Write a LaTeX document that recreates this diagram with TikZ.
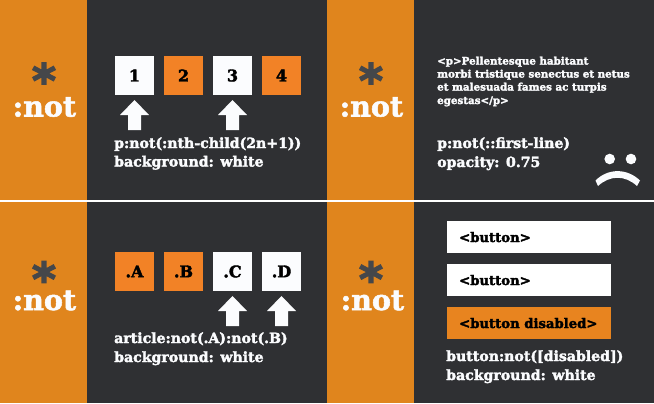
\documentclass[tikz,border=0pt]{standalone}
\usepackage{fontspec}
\newfontfamily\slab{DejaVu Serif}[BoldFeatures={FakeBold=2.4}]
\newfontfamily\slabheavy{DejaVu Serif}[BoldFeatures={FakeBold=1.8}]
\newfontfamily\starfont{DejaVu Sans}[BoldFeatures={FakeBold=3}]
\definecolor{panelorange}{HTML}{E0851D}
\definecolor{paneldark}{HTML}{2F3033}
\definecolor{boxorange}{HTML}{F28226}
\definecolor{btnorange}{HTML}{E8841F}
\definecolor{snow}{HTML}{FBFCFE}
\definecolor{stargray}{HTML}{45474A}
\tikzset{
 x=1bp,y=-1bp,
 sidepanel/.style={fill=panelorange,draw=none},
 mainpanel/.style={fill=paneldark,draw=none},
 sq/.style={minimum width=39bp,minimum height=39bp,inner sep=0pt,draw=none,font=\slab\bfseries\fontsize{16bp}{16bp}\selectfont,text=black},
 sqw/.style={sq,fill=snow},
 sqo/.style={sq,fill=boxorange},
 captxt/.style={anchor=base west,inner sep=0pt,text=snow,font=\slab\bfseries\fontsize{14.1bp}{14.1bp}\selectfont},
 paratxt/.style={anchor=base west,inner sep=0pt,text=snow,font=\slab\bfseries\fontsize{10.3bp}{10.3bp}\selectfont},
 btntxt/.style={anchor=base west,inner sep=0pt,text=black,font=\slab\bfseries\fontsize{13.2bp}{13.2bp}\selectfont},
 nottxt/.style={anchor=base west,inner sep=0pt,text=snow,font=\slabheavy\bfseries\fontsize{28.5bp}{28.5bp}\selectfont},
 startxt/.style={anchor=center,inner sep=0pt,text=stargray,font=\starfont\bfseries\fontsize{46bp}{46bp}\selectfont},
 btnbox/.style={anchor=north west,minimum width=164bp,minimum height=32bp,inner sep=0pt,draw=none},
 uparrow/.style={fill=snow,draw=none},
}
\newcommand{\uparrowat}[2]{\fill[uparrow] (#1,#2) -- ++(14.5,15) -- ++(-8,0) -- ++(0,15) -- ++(-13,0) -- ++(0,-15) -- ++(-8,0) -- cycle;}
\newcommand{\starmark}{\raisebox{-6bp}[0pt][0pt]{*}}
\begin{document}
\begin{tikzpicture}
\useasboundingbox (0,0) rectangle (654,403);
\fill[white] (0,0) rectangle (654,403);
\fill[sidepanel] (0,0) rectangle (87,200);
\fill[mainpanel] (87,0) rectangle (327,200);
\fill[sidepanel] (327,0) rectangle (414,200);
\fill[mainpanel] (414,0) rectangle (654,200);
\fill[sidepanel] (0,202) rectangle (87,403);
\fill[mainpanel] (87,202) rectangle (327,403);
\fill[sidepanel] (327,202) rectangle (414,403);
\fill[mainpanel] (414,202) rectangle (654,403);
% side labels
\node[startxt] (s1) at (44,91) {\starmark};
\node[startxt] (s2) at (371,91) {\starmark};
\node[startxt] (s3) at (44,289.5) {\starmark};
\node[startxt] (s4) at (371,289.5) {\starmark};
\node[nottxt] (n1) at (12.5,116.5) {:not};
\node[nottxt] (n2) at (339.5,116.5) {:not};
\node[nottxt] (n3) at (12.5,310) {:not};
\node[nottxt] (n4) at (340.5,310) {:not};
% panel 1
\node[sqw] (a1) at (134.5,75.5) {1};
\node[sqo] (a2) at (183.5,75.5) {2};
\node[sqw] (a3) at (232.5,75.5) {3};
\node[sqo] (a4) at (281.5,75.5) {4};
\uparrowat{134.5}{100}
\uparrowat{232.5}{100}
\node[captxt] (c1) at (114,148) {p:not(:nth-child(2n+1))};
\node[captxt] (c2) at (114,166.5) {background: white};
% panel 2
\node[paratxt] (p1) at (437,64.5) {<p>Pellentesque habitant};
\node[paratxt] (p2) at (437,77.5) {morbi tristique senectus et netus};
\node[paratxt] (p3) at (437,90.5) {et malesuada fames ac turpis};
\node[paratxt] (p4) at (437,104) {egestas</p>};
\node[captxt] (c3) at (437,148) {p:not(::first-line)};
\node[captxt] (c4) at (437,167) {opacity: 0.75};
\fill[snow] (609.7,159) circle (5.3);
\fill[snow] (631,159) circle (5.3);
\fill[snow] (595.5,180.5) .. controls (608,168) and (627,168) .. (640,180.5) -- (637,186) .. controls (625,175) and (610,175) .. (598,186) -- cycle;
% panel 3
\node[sqo] (b1) at (134.5,271.5) {.A};
\node[sqo] (b2) at (183.5,271.5) {.B};
\node[sqw] (b3) at (232.5,271.5) {.C};
\node[sqw] (b4) at (281.5,271.5) {.D};
\uparrowat{232.5}{296}
\uparrowat{281.5}{296}
\node[captxt] (c5) at (114,343) {article:not(.A):not(.B)};
\node[captxt] (c6) at (114,362) {background: white};
% panel 4
\node[btnbox,fill=white] (d1) at (447,221) {};
\node[btnbox,fill=white] (d2) at (447,264) {};
\node[btnbox,fill=btnorange] (d3) at (447,307) {};
\node[btntxt] (t1) at (459,242) {<button>};
\node[btntxt] (t2) at (459,285) {<button>};
\node[btntxt] (t3) at (459,328) {<button disabled>};
\node[captxt] (c7) at (446,361) {button:not([disabled])};
\node[captxt] (c8) at (446,380) {background: white};
\end{tikzpicture}
\end{document}
